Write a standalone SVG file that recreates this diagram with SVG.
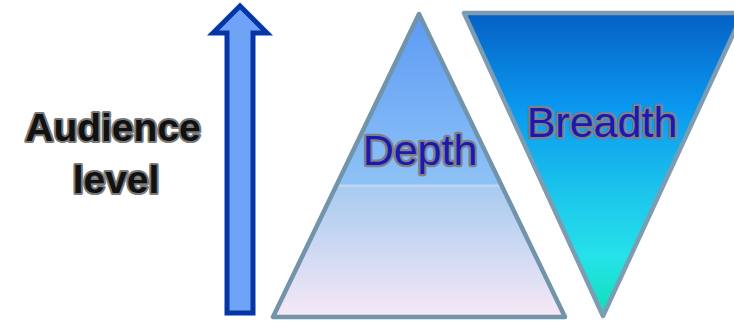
<svg xmlns="http://www.w3.org/2000/svg" width="734" height="323" viewBox="0 0 734 323">
<style>
.lbl{font-family:"Liberation Sans",Arial,sans-serif;paint-order:stroke;stroke-linejoin:round}
.aud{font-weight:bold;font-size:39px;fill:#111;stroke:#7a7a7a;stroke-width:4}
.tri{font-size:43px;fill:#1a1ab0;stroke:#7f7f8a;stroke-width:4.5}
</style>
<defs>
<linearGradient id="gDepth" x1="0" y1="13" x2="0" y2="318" gradientUnits="userSpaceOnUse">
<stop offset="0" stop-color="#5c9af4"/>
<stop offset="0.56" stop-color="#8ec2f6"/>
<stop offset="0.565" stop-color="#c0d8f2"/>
<stop offset="0.575" stop-color="#a9cbef"/>
<stop offset="1" stop-color="#f7e8f6"/>
</linearGradient>
<linearGradient id="gBreadth" x1="0" y1="13" x2="0" y2="317" gradientUnits="userSpaceOnUse">
<stop offset="0" stop-color="#0560c4"/>
<stop offset="0.3" stop-color="#0a96ee"/>
<stop offset="0.6" stop-color="#1cc6ec"/>
<stop offset="0.8" stop-color="#25e2ea"/>
<stop offset="1" stop-color="#0fe0b4"/>
</linearGradient>
</defs>
<g id="arrow">
<polygon points="240,6 267,33 253,33 253,313 227,313 227,33 213,33" fill="#6fa3f7" stroke="#0536a8" stroke-width="5" stroke-linejoin="miter"/>
</g>
<g id="audience">
<text class="lbl aud" x="113" y="141" text-anchor="middle">Audience</text>
<text class="lbl aud" x="116" y="193" text-anchor="middle">level</text>
</g>
<g id="depth">
<polygon points="419,14 273,317 565,317" fill="url(#gDepth)" stroke="#7294ab" stroke-width="4.5" stroke-linejoin="round"/>
<text class="lbl tri" x="420" y="165" text-anchor="middle">Depth</text>
</g>
<g id="breadth">
<polygon points="464,13 743,13 603,316" fill="url(#gBreadth)" stroke="#7b9cb3" stroke-width="4.5" stroke-linejoin="round"/>
<text class="lbl tri" x="602" y="137" text-anchor="middle">Breadth</text>
</g>
<g id="connectors"/>
</svg>
